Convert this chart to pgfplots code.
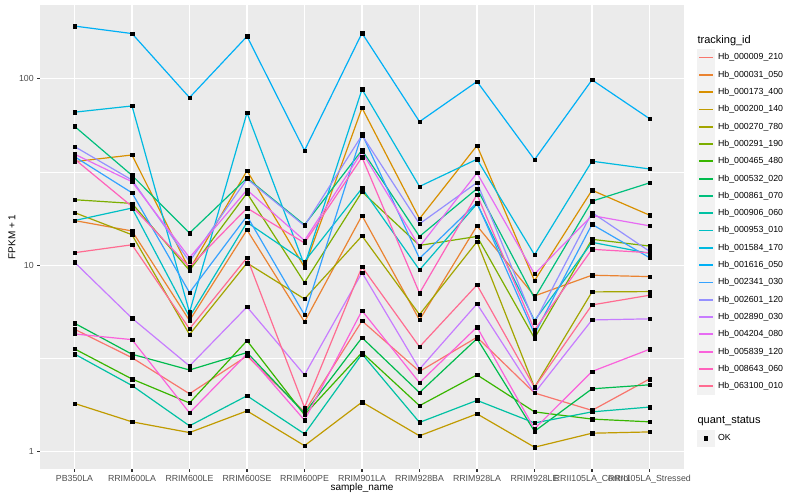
\documentclass[border=0pt]{standalone}
\usepackage{pgfplots}
\usepackage{pgfplotstable}
\usepackage{fontspec}
\setmainfont{Liberation Sans}
\pgfplotsset{compat=1.18}

\definecolor{c1}{HTML}{F8766D}
\definecolor{c2}{HTML}{EA8331}
\definecolor{c3}{HTML}{D89000}
\definecolor{c4}{HTML}{C09B00}
\definecolor{c5}{HTML}{A3A500}
\definecolor{c6}{HTML}{7CAE00}
\definecolor{c7}{HTML}{39B600}
\definecolor{c8}{HTML}{00BB4E}
\definecolor{c9}{HTML}{00BF7D}
\definecolor{c10}{HTML}{00C1A3}
\definecolor{c11}{HTML}{00BFC4}
\definecolor{c12}{HTML}{00BAE0}
\definecolor{c13}{HTML}{00B0F6}
\definecolor{c14}{HTML}{35A2FF}
\definecolor{c15}{HTML}{9590FF}
\definecolor{c16}{HTML}{C77CFF}
\definecolor{c17}{HTML}{E76BF3}
\definecolor{c18}{HTML}{FA62DB}
\definecolor{c19}{HTML}{FF62BC}
\definecolor{c20}{HTML}{FF6C91}
\definecolor{panel}{HTML}{EBEBEB}
\definecolor{keybg}{HTML}{F2F2F2}
\definecolor{gray30}{HTML}{4D4D4D}
\definecolor{gray20}{HTML}{333333}

% FPKM + 1 per sample (rows) and tracking_id (columns s1..s20, legend order)
\pgfplotstableread{
x  s1   s2   s3   s4   s5   s6   s7   s8   s9   s10  s11  s12  s13  s14  s15  s16  s17  s18  s19  s20
0  4.55 17.4 36.0 1.82 19.2 22.5 3.57 4.90 55.7 3.35 17.4 66.3 192  38.3 43.4 10.4 39.5 4.29 37.2 11.7
1  3.20 15.3 39.1 1.45 14.6 21.5 2.46 3.34 30.4 2.27 20.3 71.6 175  24.5 28.7 5.21 28.1 4.00 20.7 12.9
2  2.05 5.06 9.50 1.27 4.26 9.40 1.83 2.75 14.9 1.38 5.30 5.60 79.4 7.15 10.5 2.89 11.0 1.62 9.80 4.57
3  3.27 15.5 32.2 1.66 10.3 24.4 3.95 3.41 29.4 2.00 17.0 65.8 169  18.4 29.1 5.99 25.4 3.35 20.3 11.0
4  1.64 4.98 9.78 1.08 6.61 8.09 1.58 1.61 16.5 1.25 10.5 10.0 41.3 5.43 16.3 2.59 13.6 1.48 13.2 1.73
5  5.04 18.5 69.9 1.85 14.4 24.8 3.41 4.10 41.5 3.35 25.9 87.9 176  50.7 49.9 9.15 40.6 5.72 38.0 9.82
6  2.70 5.10 17.8 1.22 5.45 12.8 1.77 2.08 14.3 1.44 9.46 26.5 59.0 10.9 16.7 2.78 12.6 2.35 7.10 3.66
7  4.12 16.3 43.9 1.60 13.4 14.3 2.59 4.05 25.8 1.89 21.4 37.1 96.8 21.7 27.8 6.22 31.3 4.67 24.0 7.86
8  2.07 6.86 8.28 1.06 2.22 4.07 1.64 1.29 6.67 1.43 5.06 11.4 36.9 4.29 4.94 2.07 9.00 1.33 4.51 2.22
9  1.67 8.86 25.3 1.26 7.21 13.8 1.50 2.18 22.1 1.64 13.3 36.2 98.8 16.6 19.2 5.10 18.5 2.70 12.2 6.14
10 2.46 8.71 18.6 1.28 7.24 12.7 1.45 2.29 27.7 1.74 11.6 32.9 61.2 11.0 11.9 5.17 16.3 3.55 11.7 6.92
}\data

\pgfplotsset{
  keyline/.style={legend image code/.code={
      \fill[keybg] (0pt,-8.3pt) rectangle (17pt,8.3pt);
      \draw[line width=1.8pt] (1.7pt,0pt) -- (15.3pt,0pt);}},
  keypoint/.style={legend image code/.code={
      \fill[keybg] (0pt,-8.3pt) rectangle (17pt,8.3pt);
      \fill[black] (6.8pt,-1.7pt) rectangle (10.2pt,1.7pt);}},
}

\begin{document}
\begin{tikzpicture}
\begin{axis}[
    scale only axis,
    width=644pt, height=464pt,
    ymode=log,
    xmin=-0.6, xmax=10.6,
    ymin=0.81, ymax=249,
    axis background/.style={fill=panel},
    axis line style={draw=none},
    xtick={0,...,10},
    xticklabels={PB350LA,RRIM600LA,RRIM600LE,RRIM600SE,RRIM600PE,RRIM901LA,RRIM928BA,RRIM928LA,RRIM928LE,RRII105LA\_Control,RRII105LA\_Stressed},
    ytick={1,10,100},
    yticklabels={1,10,100},
    minor ytick={3.1623,31.623},
    xmajorgrids, ymajorgrids, yminorgrids,
    major grid style={white, line width=1.07pt},
    minor grid style={white, line width=0.53pt},
    tick pos=left,
    tick align=outside,
    major tick length=2.75pt,
    minor tick length=0pt,
    tick style={gray20, line width=1.07pt},
    ticklabel style={font=\fontsize{8.8}{10}\selectfont, text=gray30},
    xlabel={sample\_name},
    ylabel={FPKM + 1},
    label style={font=\fontsize{11}{13}\selectfont},
    every axis x label/.style={at={(axis description cs:0.5,0)}, yshift=-19pt, anchor=center},
    every axis y label/.style={at={(axis description cs:0,0.5)}, xshift=-28pt, rotate=90, anchor=center},
    legend cell align=left,
    legend style={at={(axis description cs:1.0202,0.9432)}, anchor=north west,
      draw=none, fill=none, inner sep=0pt, row sep=0pt, column sep=3.4pt,
      font=\fontsize{8.8}{10}\selectfont,
      nodes={inner sep=0pt, minimum height=17.3pt, anchor=west}},
]
\pgfplotsinvokeforeach{1,...,20}{
  \addplot[color=c#1, line width=1.2pt, forget plot] table[x=x, y=s#1]{\data};
}
\pgfplotsinvokeforeach{1,...,20}{
  \addplot[only marks, mark=square*, mark size=1.7pt, mark options={draw=none, fill=black}, forget plot] table[x=x, y=s#1]{\data};
}

\addlegendimage{empty legend}
\addlegendentry{\hspace*{-20.4pt}\fontsize{11}{13}\selectfont tracking\_id}
\addlegendimage{keyline, color=c1}\addlegendentry{Hb\_000009\_210}
\addlegendimage{keyline, color=c2}\addlegendentry{Hb\_000031\_050}
\addlegendimage{keyline, color=c3}\addlegendentry{Hb\_000173\_400}
\addlegendimage{keyline, color=c4}\addlegendentry{Hb\_000200\_140}
\addlegendimage{keyline, color=c5}\addlegendentry{Hb\_000270\_780}
\addlegendimage{keyline, color=c6}\addlegendentry{Hb\_000291\_190}
\addlegendimage{keyline, color=c7}\addlegendentry{Hb\_000465\_480}
\addlegendimage{keyline, color=c8}\addlegendentry{Hb\_000532\_020}
\addlegendimage{keyline, color=c9}\addlegendentry{Hb\_000861\_070}
\addlegendimage{keyline, color=c10}\addlegendentry{Hb\_000906\_060}
\addlegendimage{keyline, color=c11}\addlegendentry{Hb\_000953\_010}
\addlegendimage{keyline, color=c12}\addlegendentry{Hb\_001584\_170}
\addlegendimage{keyline, color=c13}\addlegendentry{Hb\_001616\_050}
\addlegendimage{keyline, color=c14}\addlegendentry{Hb\_002341\_030}
\addlegendimage{keyline, color=c15}\addlegendentry{Hb\_002601\_120}
\addlegendimage{keyline, color=c16}\addlegendentry{Hb\_002890\_030}
\addlegendimage{keyline, color=c17}\addlegendentry{Hb\_004204\_080}
\addlegendimage{keyline, color=c18}\addlegendentry{Hb\_005839\_120}
\addlegendimage{keyline, color=c19}\addlegendentry{Hb\_008643\_060}
\addlegendimage{keyline, color=c20}\addlegendentry{Hb\_063100\_010}
\addlegendimage{empty legend}\addlegendentry{}
\addlegendimage{empty legend}
\addlegendentry{\hspace*{-20.4pt}\fontsize{11}{13}\selectfont quant\_status}
\addlegendimage{keypoint}\addlegendentry{OK}
\end{axis}
\pgfresetboundingbox
\useasboundingbox (-40pt,-31pt) rectangle (760pt,469pt);
\end{tikzpicture}
\end{document}
